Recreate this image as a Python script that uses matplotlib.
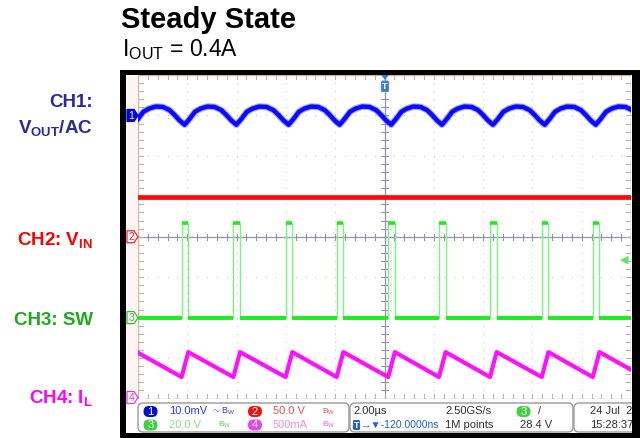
import numpy as np
import matplotlib
matplotlib.use('Agg')
import matplotlib.pyplot as plt
from matplotlib.patches import FancyBboxPatch, Rectangle, Polygon

plt.rcParams['font.family'] = ['Liberation Sans', 'DejaVu Sans']
plt.rcParams['mathtext.fontset'] = 'custom'
plt.rcParams['mathtext.rm'] = 'Liberation Sans'
plt.rcParams['mathtext.bf'] = 'Liberation Sans:bold'

# scope settings
TIME_PER_DIV = 2.0                                # us / div
CH_SCALE = {1: 10.0, 2: 50.0, 3: 20.0, 4: 0.5}    # mV, V, V, A per div
CH_OFFSET = {1: 3.0, 2: 0.0, 3: -2.0, 4: -4.0}    # ground marker, div

# switch node rising edges (us), first and last are just off screen
SW_RISE_US = [-10.32, -8.23, -6.13, -4.01, -1.94, 0.15, 2.21, 4.28, 6.38, 8.45, 10.53]
SW_ON_US = 0.27
SW_HIGH_V = 47.0
SW_LOW_V = 0.0
VIN_V = 49.0
TRIG_LEVEL_V = 28.4
IL_VALLEY_A = 0.265
IL_PEAK_A = 0.574
# output ripple over one period, cusp to cusp
RIPPLE_PHASE = [0.0, 0.1, 0.2, 0.31, 0.44, 0.58, 0.71, 0.8, 0.9, 1.0]
RIPPLE_MV = [-2.3, -0.8, 0.9, 1.7, 2.2, 2.1, 1.3, 0.2, -1.2, -2.3]
RIPPLE_DELAY_US = 0.12

BLUE = '#0a0aff'
RED = '#ff0a0a'
GREEN = '#18f018'
MAGENTA = '#ff10ff'

W, H = 640, 438


def to_div(ch, v):
    return CH_OFFSET[ch] + np.asarray(v, dtype=float) / CH_SCALE[ch]


def sw_trace():
    t, v = [], []
    for r in SW_RISE_US:
        t += [r, r, r + SW_ON_US, r + SW_ON_US]
        v += [SW_LOW_V, SW_HIGH_V, SW_HIGH_V, SW_LOW_V]
    return np.array(t), np.array(v)


def il_trace():
    t, v = [], []
    for r in SW_RISE_US:
        t += [r, r + SW_ON_US]
        v += [IL_VALLEY_A, IL_PEAK_A]
    return np.array(t), np.array(v)


def vout_trace():
    t, v = [], []
    cusps = [r + RIPPLE_DELAY_US for r in SW_RISE_US]
    for a, b in zip(cusps[:-1], cusps[1:]):
        for p, mv in zip(RIPPLE_PHASE[:-1], RIPPLE_MV[:-1]):
            t.append(a + p * (b - a))
            v.append(mv)
    t.append(cusps[-1])
    v.append(RIPPLE_MV[-1])
    return np.array(t), np.array(v)


fig = plt.figure(figsize=(W / 100, H / 100), dpi=100)
fig.patch.set_facecolor('white')

# graticule area in pixels
GX0, GX1, GY0, GY1 = 138, 631, 75, 398.5
ax = fig.add_axes([GX0 / W, 1 - GY1 / H, (GX1 - GX0) / W, (GY1 - GY0) / H])
ax.set_xlim(-5 * TIME_PER_DIV, 5 * TIME_PER_DIV)
ax.set_ylim(-4, 4)
ax.axis('off')

# dotted graticule
grid_c = '#b8b8c4'
for xd in np.arange(-4, 5):
    if xd == 0:
        continue
    ys = np.arange(-4, 4.01, 0.2)
    ax.scatter(np.full_like(ys, xd * TIME_PER_DIV), ys, s=0.6, c=grid_c, lw=0, zorder=1)
for yd in np.arange(-3, 4):
    if yd == 0:
        continue
    xs = np.arange(-10, 10.01, 0.4)
    ax.scatter(xs, np.full_like(xs, yd), s=0.6, c=grid_c, lw=0, zorder=1)
ax.axhline(0, color='#9494aa', lw=0.9, zorder=1)
ax.axvline(0, color='#9494aa', lw=0.9, zorder=1)
for xm in np.arange(-10, 10.01, 0.4):
    ax.plot([xm, xm], [-0.07, 0.07], color='#9494aa', lw=0.8, zorder=1)
    ax.plot([xm, xm], [4, 3.9], color='#b0b0c0', lw=0.7, zorder=1)
    ax.plot([xm, xm], [-4, -3.9], color='#b0b0c0', lw=0.7, zorder=1)
for ym in np.arange(-4, 4.01, 0.2):
    ax.plot([-0.14, 0.14], [ym, ym], color='#9494aa', lw=0.8, zorder=1)
    ax.plot([-10, -9.8], [ym, ym], color='#b0b0c0', lw=0.7, zorder=1)
    ax.plot([10, 9.8], [ym, ym], color='#b0b0c0', lw=0.7, zorder=1)
ax.add_patch(Rectangle((-10, -4), 20, 8, fill=False, ec='#d9b48a', lw=1.0, zorder=2))

# CH2 input voltage
ax.plot([-10, 10], to_div(2, [VIN_V, VIN_V]), color=RED, lw=3.4, zorder=3)

# CH3 switch node: thin edges, thick flat levels
ts, vs = sw_trace()
ax.plot(ts, to_div(3, vs), color='#7cf57c', lw=1.0, zorder=3)
vs_div = to_div(3, vs)
for i in range(len(ts) - 1):
    if vs[i] == vs[i + 1]:
        ax.plot(ts[i:i + 2], vs_div[i:i + 2], color=GREEN, lw=2.6, zorder=4,
                solid_capstyle='butt')
for a, b in zip(SW_RISE_US[:-1], SW_RISE_US[1:]):
    ax.plot([a + SW_ON_US, b], to_div(3, [SW_LOW_V, SW_LOW_V]), color=GREEN, lw=2.6,
            zorder=4, solid_capstyle='butt')

# CH4 inductor current
ti, vi = il_trace()
ax.plot(ti, to_div(4, vi), color=MAGENTA, lw=3.0, zorder=4)

# CH1 output ripple
tv, vv = vout_trace()
ax.plot(tv, to_div(1, vv), color='#6a6aff', lw=4.8, alpha=0.55, zorder=4)
ax.plot(tv, to_div(1, vv), color=BLUE, lw=3.2, zorder=5)

# trigger level marker (CH3), pointing left
ty = float(to_div(3, TRIG_LEVEL_V))
ax.add_patch(Polygon([[9.55, ty], [9.9, ty + 0.11], [9.9, ty - 0.11]], closed=True,
                     fc='#60e860', ec='none', zorder=6))

# overlay in pixel coordinates for frame, labels and status bar
ov = fig.add_axes([0, 0, 1, 1], facecolor='none')
ov.set_xlim(0, W)
ov.set_ylim(H, 0)
ov.axis('off')

ov.add_patch(Rectangle((126, 75), 12, 325, fc='#fdf4f4', ec='none', zorder=0))
for x0, y0, w, h in [(120, 70, 520, 5), (120, 70, 6, 368)]:
    ov.add_patch(Rectangle((x0, y0), w, h, fc='black', ec='none', zorder=10))


def div_to_py(d):
    return GY0 + (4 - d) / 8 * (GY1 - GY0)


# channel ground markers
def ch_marker(y, num, color, filled):
    pts = [[127, y - 6], [134, y - 6], [138, y], [134, y + 6], [127, y + 6]]
    ov.add_patch(Polygon(pts, closed=True, fc=color if filled else 'white',
                         ec=color, lw=0.9, zorder=8))
    ov.text(131.5, y + 0.5, str(num), color='white' if filled else color, fontsize=7.5,
            ha='center', va='center', zorder=9)


ch_marker(div_to_py(CH_OFFSET[1]), 1, '#0000e0', True)
ch_marker(div_to_py(CH_OFFSET[2]), 2, '#ff2020', False)
ch_marker(div_to_py(CH_OFFSET[3]), 3, '#30c030', False)
ch_marker(div_to_py(CH_OFFSET[4]) - 1, 4, '#e040e0', False)

# trigger position marker
ov.add_patch(Polygon([[381, 75], [389, 75], [385, 80]], closed=True, fc='#3a7ad8', ec='none', zorder=8))
ov.add_patch(FancyBboxPatch((381.5, 81), 7, 10, boxstyle='round,pad=0.4,rounding_size=1.5',
                            fc='#3a7ad8', ec='none', zorder=8))
ov.text(385, 86.5, 'T', color='white', fontsize=6.5, fontweight='bold', ha='center',
        va='center', zorder=9)

# titles
ov.text(121, 28, 'Steady State', fontsize=21, fontweight='bold', ha='left', va='baseline')
ov.text(122, 56.5, r'I$_{\mathrm{OUT}}$ = 0.4A', fontsize=16.5, ha='left', va='baseline')

# channel names
lab = dict(fontsize=13.5, fontweight='bold', ha='right', va='baseline')
ov.text(93, 107, 'CH1:', color='#2a2a9c', **lab)
ov.text(93, 134, r'V$_{\mathbf{OUT}}$/AC', color='#2a2a9c', **lab)
ov.text(93, 246, r'CH2: V$_{\mathbf{IN}}$', color='#ff0000', **lab)
ov.text(93, 325, 'CH3: SW', color='#1fa81f', **lab)
ov.text(93, 404, r'CH4: I$_{\mathbf{L}}$', color='#ff00ff', **lab)

# status bar
ov.add_patch(Rectangle((126, 399), 506, 34, fc='white', ec='none', zorder=7))
for x0, x1 in [(138, 349), (350, 573), (574, 645)]:
    ov.add_patch(FancyBboxPatch((x0, 403), x1 - x0, 29, boxstyle='round,pad=0,rounding_size=5',
                                fc='white', ec='#9a9a9a', lw=1.0, zorder=8))

sb_font = dict(fontsize=8, va='center', zorder=9)


def badge(x, y, num, color):
    ov.add_patch(FancyBboxPatch((x - 7, y - 5.5), 14, 11, boxstyle='round,pad=0,rounding_size=5.5',
                                fc=color, ec='none', zorder=9))
    ov.text(x, y + 0.5, str(num), color='white', fontsize=8, ha='center', va='center', zorder=10)


R1, R2 = 411.5, 425
badge(150.5, R1, 1, '#0010c8')
ov.text(169, R1, '10.0mV', color='#3040e0', **sb_font)
ov.text(211, R1, r'$\sim$B$_{\mathrm{W}}$', color='#3040e0', fontsize=6.5, va='center', zorder=9)
badge(255, R1, 2, '#f01010')
ov.text(273, R1, '50.0 V', color='#f05050', **sb_font)
ov.text(322, R1, r'B$_{\mathrm{W}}$', color='#f05050', fontsize=6, va='center', zorder=9)
badge(150.5, R2, 3, '#40d040')
ov.text(169, R2, '20.0 V', color='#8ce08c', **sb_font)
ov.text(218, R2, r'B$_{\mathrm{W}}$', color='#60d060', fontsize=6, va='center', zorder=9)
badge(255, R2, 4, '#f040f0')
ov.text(273, R2, '500mA', color='#f08cf0', **sb_font)
ov.text(322, R2, r'B$_{\mathrm{W}}$', color='#f060f0', fontsize=6, va='center', zorder=9)

ov.text(353, R1, '2.00\u00b5s', color='#303030', **sb_font)
ov.text(445, R1, '2.50GS/s', color='#303030', **sb_font)
badge(523.5, R1, 3, '#40d040')
ov.text(538, R1, '/', color='#303030', **sb_font)
ov.add_patch(FancyBboxPatch((353, R2 - 5), 7, 10, boxstyle='round,pad=0,rounding_size=1.5',
                            fc='#2060d0', ec='none', zorder=9))
ov.text(356.5, R2, 'T', color='white', fontsize=6.5, fontweight='bold', ha='center', va='center', zorder=10)
ov.text(361, R2, '\u2192\u25bc-120.0000ns', color='#2060d0', fontsize=7.5, va='center', zorder=9)
ov.text(445, R2, '1M points', color='#303030', **sb_font)
ov.text(520, R2, '28.4 V', color='#303030', **sb_font)
ov.text(590, R1, '24 Jul  20', color='#303030', **sb_font)
ov.text(590, R2, '15:28:37', color='#303030', **sb_font)
for x0, y0, w, h in [(632, 70, 8, 368), (120, 433, 520, 5)]:
    ov.add_patch(Rectangle((x0, y0), w, h, fc='black', ec='none', zorder=11))

fig.savefig('out.png', dpi=100)
